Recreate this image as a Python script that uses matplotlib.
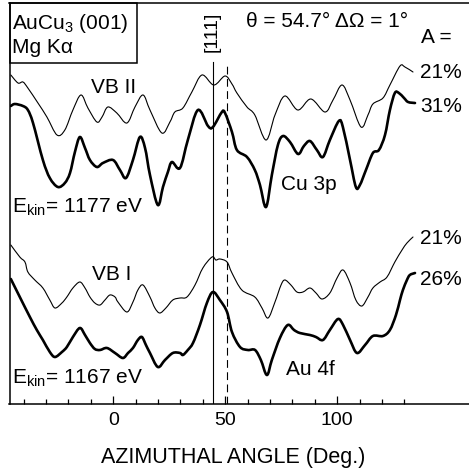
import matplotlib
matplotlib.use("Agg")
import numpy as np
import matplotlib.pyplot as plt
from matplotlib.patches import Rectangle, PathPatch
from matplotlib.path import Path

plt.rcParams["font.family"] = ["Liberation Sans", "DejaVu Sans"]
plt.rcParams["mathtext.fontset"] = "custom"
plt.rcParams["mathtext.rm"] = "Liberation Sans"
plt.rcParams["mathtext.it"] = "Liberation Sans:italic"

# Azimuthal scans (angle in degrees, intensity in arbitrary offset units)
vb2_angle = [-45.7, -42.5, -40.3, -38.1, -33.6, -29.6, -25.1, -21.6, -18.0, -14.4,
             -11.3, -7.3, -5.0, -2.4, 1.6, 6.1, 9.7, 13.3, 16.4, 21.7,
             25.3, 27.5, 31.1, 35.1, 39.6, 44.9, 49.9, 53.0, 55.2, 59.7,
             63.2, 68.2, 72.2, 76.6, 82.4, 88.2, 94.5, 98.1, 102.1, 105.7,
             110.6, 113.7, 115.9, 120.4, 123.5, 128.0, 130.2, 133.8]
vb2_int = [3.29, 3.21, 3.22, 3.16, 3.01, 2.87, 2.69, 2.74, 2.94, 3.09,
           2.96, 2.82, 2.87, 2.97, 2.91, 2.81, 2.97, 3.09, 2.94, 2.71,
           2.82, 2.92, 2.96, 3.12, 3.29, 3.19, 3.28, 3.20, 3.11, 2.97,
           2.89, 2.64, 2.89, 3.08, 2.94, 3.05, 2.92, 3.04, 3.19, 3.04,
           2.77, 2.89, 3.00, 3.06, 3.19, 3.38, 3.37, 3.32]

cu3p_angle = [-45.7, -43.9, -40.3, -38.1, -35.8, -31.4, -28.3, -24.7, -21.6, -19.3,
              -17.1, -14.9, -12.6, -10.4, -7.3, -4.6, -0.1, 3.0, 5.7, 8.8,
              11.9, 14.2, 16.4, 19.9, 22.2, 24.4, 26.2, 29.8, 33.3, 37.8,
              42.3, 44.5, 48.5, 49.9, 53.0, 55.2, 59.7, 63.2, 65.5, 68.2,
              70.8, 73.5, 75.8, 78.9, 82.5, 85.1, 87.8, 90.9, 93.6, 96.7,
              100.7, 102.5, 105.7, 108.3, 110.1, 112.8, 115.9, 118.6, 121.3, 123.5,
              125.7, 127.5, 129.8, 131.6, 134.7]
cu3p_int = [2.98, 3.00, 2.98, 2.94, 2.81, 2.44, 2.26, 2.17, 2.21, 2.31,
            2.52, 2.67, 2.56, 2.44, 2.37, 2.41, 2.44, 2.34, 2.26, 2.44,
            2.67, 2.56, 2.29, 1.99, 2.17, 2.32, 2.42, 2.36, 2.64, 2.94,
            2.78, 2.77, 2.92, 2.91, 2.72, 2.54, 2.47, 2.34, 2.19, 1.97,
            2.29, 2.59, 2.68, 2.62, 2.50, 2.58, 2.63, 2.54, 2.47, 2.64,
            2.83, 2.77, 2.44, 2.17, 2.19, 2.34, 2.51, 2.54, 2.69, 2.94,
            3.11, 3.11, 3.06, 3.02, 3.01]

vb1_angle = [-45.7, -41.7, -39.4, -38.1, -35.0, -31.4, -28.3, -26.0, -22.9, -20.7,
             -18.0, -14.9, -12.6, -10.4, -8.2, -5.9, -3.7, -1.5, 0.8, 2.1,
             6.1, 8.8, 11.0, 13.3, 16.4, 18.6, 20.8, 23.5, 26.6, 29.8,
             32.9, 36.5, 40.0, 44.1, 45.8, 47.6, 50.8, 53.0, 57.4, 63.2,
             66.4, 69.1, 72.2, 74.9, 76.6, 79.3, 82.0, 84.7, 87.8, 90.5,
             93.2, 96.7, 99.9, 102.6, 105.7, 108.3, 111.0, 113.7, 115.9, 119.1,
             122.2, 125.7, 128.9, 131.1, 133.8]
vb1_int = [1.59, 1.47, 1.42, 1.32, 1.24, 1.16, 1.04, 0.96, 1.01, 1.07,
           1.16, 1.22, 1.16, 1.07, 1.01, 0.99, 1.04, 1.09, 1.07, 1.02,
           0.92, 1.02, 1.14, 1.19, 1.07, 0.96, 0.91, 0.96, 1.04, 1.06,
           1.07, 1.19, 1.36, 1.47, 1.44, 1.45, 1.42, 1.31, 1.14, 1.07,
           0.96, 0.86, 1.02, 1.19, 1.24, 1.19, 1.12, 1.12, 1.16, 1.11,
           1.05, 1.11, 1.26, 1.34, 1.21, 1.04, 0.98, 1.07, 1.16, 1.22,
           1.27, 1.42, 1.54, 1.61, 1.67]

au4f_angle = [-45.7, -41.7, -37.2, -34.1, -31.4, -28.3, -26.0, -22.9, -20.7, -18.0,
              -14.9, -12.6, -10.4, -8.2, -5.9, -2.8, 0.8, 4.3, 6.6, 8.8,
              11.0, 12.8, 14.6, 16.4, 19.9, 23.1, 26.6, 29.8, 31.1, 33.3,
              35.6, 38.7, 41.8, 44.5, 47.6, 50.8, 53.0, 56.6, 60.1, 63.3,
              65.9, 68.6, 70.8, 74.4, 77.9, 80.7, 83.3, 87.8, 90.5, 93.6,
              96.7, 100.3, 102.6, 105.7, 108.8, 112.4, 115.9, 120.4, 123.5, 126.2,
              128.0, 129.3, 131.1, 132.4, 134.7]
au4f_int = [1.25, 1.07, 0.87, 0.74, 0.64, 0.52, 0.47, 0.52, 0.57, 0.67,
            0.76, 0.69, 0.61, 0.55, 0.54, 0.56, 0.51, 0.46, 0.51, 0.56,
            0.64, 0.67, 0.59, 0.51, 0.37, 0.44, 0.51, 0.51, 0.49, 0.54,
            0.61, 0.79, 1.01, 1.12, 1.04, 0.92, 0.72, 0.57, 0.54, 0.54,
            0.44, 0.29, 0.44, 0.66, 0.79, 0.74, 0.71, 0.69, 0.67, 0.64,
            0.74, 0.85, 0.79, 0.64, 0.51, 0.59, 0.68, 0.68, 0.74, 0.89,
            1.04, 1.14, 1.24, 1.29, 1.31]

major_ticks = [0, 50, 100]
minor_ticks = [-40, -30, -20, -10, 10, 20, 30, 40, 60, 70, 80, 90, 110, 120, 130]
dir_111 = 44.5
dir_dashed = 50.7
marker_top = 3.42

W, H = 469, 471
fig = plt.figure(figsize=(W / 100, H / 100), dpi=100)


def fx(px):
    return px / W


def fy(py):
    return 1 - py / H


ax = fig.add_axes([fx(9.5), fy(404), 1 - fx(9.5), fy(3) - fy(404)])
ax.set_xlim(-46.3, 158.8)
ax.set_ylim(0, 4.01)


def smooth_path(xs, ys, tension=0.5):
    """Bezier path passing through every point (Catmull-Rom style handles)."""
    p = np.column_stack([xs, ys]).astype(float)
    n = len(p)
    verts = [p[0]]
    codes = [Path.MOVETO]
    for i in range(n - 1):
        p0 = p[i - 1] if i > 0 else p[i]
        p3 = p[i + 2] if i + 2 < n else p[i + 1]
        c1 = p[i] + (p[i + 1] - p0) * tension / 3
        c2 = p[i + 1] - (p3 - p[i]) * tension / 3
        verts += [c1, c2, p[i + 1]]
        codes += [Path.CURVE4] * 3
    return Path(verts, codes)


def draw_scan(xs, ys, lw):
    ax.add_patch(PathPatch(smooth_path(xs, ys), fill=False, edgecolor="black",
                           lw=lw, joinstyle="round", capstyle="round"))


draw_scan(vb2_angle, vb2_int, 0.8)
draw_scan(cu3p_angle, cu3p_int, 1.9)
draw_scan(vb1_angle, vb1_int, 0.8)
draw_scan(au4f_angle, au4f_int, 1.9)

ax.plot([dir_111, dir_111], [0, marker_top], color="black", lw=0.8)
ax.plot([dir_dashed, dir_dashed], [0, marker_top], color="black", lw=0.8,
        linestyle=(0, (7, 4)))

for s in ("left", "top", "bottom"):
    ax.spines[s].set_linewidth(1.1)
ax.spines["right"].set_visible(False)

ax.set_xticks(major_ticks)
ax.set_xticks(minor_ticks, minor=True)
ax.set_yticks([])
ax.tick_params(axis="x", which="major", direction="in", length=6, width=0.9,
               labelsize=14, pad=6, top=False)
ax.tick_params(axis="x", which="minor", direction="in", length=3.5, width=0.9,
               top=False)

# header box
fig.patches.append(Rectangle((fx(9.5), fy(63)), fx(137) - fx(9.5), fy(3) - fy(63),
                             transform=fig.transFigure, fill=False,
                             edgecolor="black", lw=1.1))

fs = 15


def label(px, py, s, **kw):
    fig.text(fx(px), fy(py), s, fontsize=kw.pop("fontsize", fs), va="baseline",
             ha=kw.pop("ha", "left"), **kw)


label(12, 29, r"AuCu$_3$ (001)")
label(12, 53, "Mg K\u03b1")
label(246, 27, "\u03b8 = 54.7\u00b0 \u0394\u03a9 = 1\u00b0")
label(421, 43, "A =")
label(420, 78, "21%")
label(420, 112, "31%")
label(420, 244, "21%")
label(420, 285, "26%")
label(91, 93, "VB II")
label(281, 190, "Cu 3p")
label(12, 213, r"E$_{\rm kin}$= 1177 eV")
label(92, 280, "VB I")
label(12, 384, r"E$_{\rm kin}$= 1167 eV")
label(286, 375, "Au 4f")
fig.text(fx(212), fy(32), "[111]", fontsize=14, rotation=90, ha="center", va="center")
label(233, 463, "AZIMUTHAL ANGLE (Deg.)", fontsize=15.5, ha="center")

fig.savefig("out.png", dpi=100, facecolor="white")
